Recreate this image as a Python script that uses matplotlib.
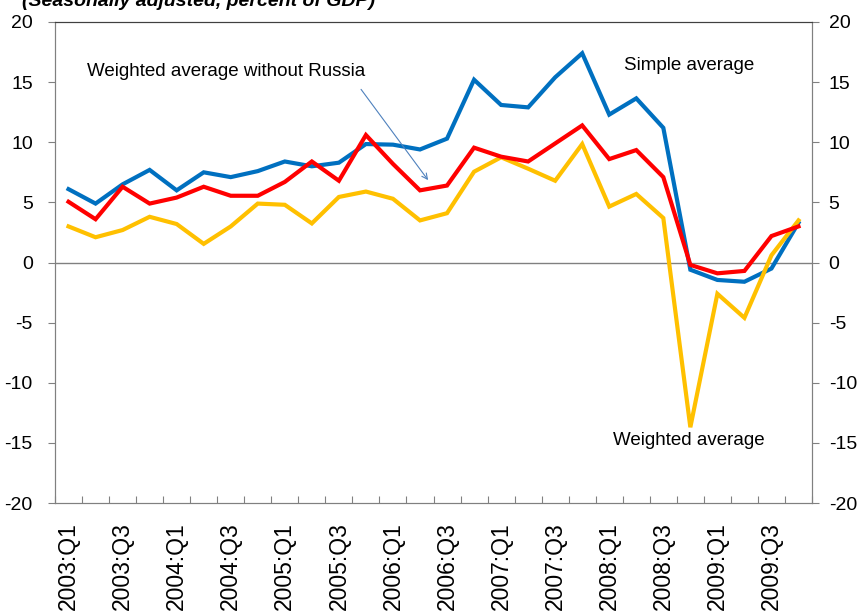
import numpy as np
import matplotlib
matplotlib.use("Agg")
import matplotlib.pyplot as plt

plt.rcParams["font.family"] = ["Liberation Sans", "DejaVu Sans"]
plt.rcParams["axes.unicode_minus"] = False

# -------- DATA --------
quarters = [f"{y}:Q{q}" for y in range(2003, 2010) for q in range(1, 5)]

simple_avg = [6.1, 4.9, 6.5, 7.7, 6.0, 7.5, 7.1, 7.6, 8.4, 8.0, 8.3, 9.85,
              9.8, 9.4, 10.3, 15.2, 13.1, 12.9, 15.4, 17.4, 12.3, 13.65,
              11.2, -0.6, -1.45, -1.6, -0.5, 3.3]
weighted_ex_russia = [5.05, 3.6, 6.3, 4.9, 5.4, 6.3, 5.55, 5.55, 6.7, 8.4,
                      6.8, 10.6, 8.2, 6.0, 6.4, 9.55, 8.8, 8.4, 9.9, 11.4,
                      8.6, 9.35, 7.1, -0.2, -0.9, -0.7, 2.2, 3.0]
weighted_avg = [3.0, 2.1, 2.7, 3.8, 3.2, 1.55, 3.0, 4.9, 4.8, 3.25, 5.45,
                5.9, 5.3, 3.5, 4.1, 7.55, 8.75, 7.8, 6.8, 9.85, 4.65, 5.7,
                3.7, -13.7, -2.6, -4.6, 0.6, 3.5]

BLUE = "#0070C0"
RED = "#FF0000"
YELLOW = "#FFC000"

# -------- FIGURE --------
fig = plt.figure(figsize=(8.58, 6.16), dpi=100)
ax = fig.add_axes([0.0641, 0.1834, 0.8823, 0.7809])

x = np.arange(len(quarters))
ax.plot(x, simple_avg, color=BLUE, lw=3, solid_joinstyle="miter", zorder=3)
ax.plot(x, weighted_avg, color=YELLOW, lw=3, solid_joinstyle="miter", zorder=4)
ax.plot(x, weighted_ex_russia, color=RED, lw=3, solid_joinstyle="miter", zorder=5)

ax.axhline(0, color="#808080", lw=1, zorder=1)

ax.set_xlim(-0.5, len(quarters) - 0.5)
ax.set_ylim(-20, 20)
ax.set_yticks(np.arange(-20, 21, 5))

# category boundaries as tick marks, labels every other quarter
ax.set_xticks(np.arange(-0.5, len(quarters), 1), minor=False)
ax.set_xticklabels([])
ax.set_xticks(x[::2], minor=True)
ax.set_xticklabels(quarters[::2], minor=True, rotation=90, fontsize=16.5)
ax.tick_params(axis="x", which="major", direction="in", length=5,
               color="#808080")
ax.tick_params(axis="x", which="minor", length=0, pad=14)

ax.tick_params(axis="y", direction="out", length=5, color="#808080",
               labelsize=14, pad=11)

ax2 = ax.twinx()
ax2.set_ylim(-20, 20)
ax2.set_yticks(np.arange(-20, 21, 5))
ax2.tick_params(axis="y", direction="out", length=5, color="#808080",
                labelsize=14, pad=7)

for a in (ax, ax2):
    for side in ("left", "right", "bottom"):
        a.spines[side].set_color("#808080")
    a.spines["top"].set_color("#404040")

# -------- ANNOTATIONS --------
ax.text(0.7, 15.9, "Weighted average without Russia", fontsize=13.5,
        va="center", ha="left")
ax.annotate("", xy=(13.3, 6.85), xytext=(10.82, 14.4),
            arrowprops=dict(arrowstyle="->", color="#4F81BD", lw=0.8,
                            shrinkA=0, shrinkB=0))
ax.text(20.55, 16.4, "Simple average", fontsize=13.5,
        va="center", ha="left")
ax.text(20.15, -14.8, "Weighted average", fontsize=13.5,
        va="center", ha="left")

fig.text(0.026, 1 - 6.5 / 616, "(Seasonally adjusted, percent of GDP)",
         fontsize=14, style="italic", fontweight="bold",
         va="baseline", ha="left")

fig.savefig("out.png", dpi=100)
